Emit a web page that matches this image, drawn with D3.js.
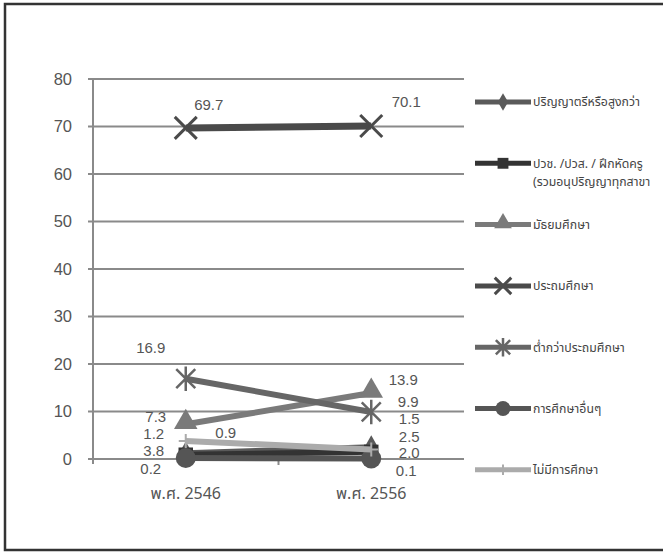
<!DOCTYPE html>
<html><head><meta charset="utf-8">
<script src="https://cdn.jsdelivr.net/npm/d3@7"></script>
<style>
html,body{margin:0;padding:0;background:#fff;}
svg{display:block;}
text{font-family:"Liberation Sans","DejaVu Sans",sans-serif;}
.thai{font-family:Tahoma,"Noto Sans Thai","Noto Sans","DejaVu Sans",sans-serif;}
</style>
</head><body>
<svg id="chart" width="663" height="558"></svg>
<script>
// ---- data ----
const categories = ["พ.ศ. 2546", "พ.ศ. 2556"];
const seriesNames = [
  "ปริญญาตรีหรือสูงกว่า",
  "ปวช. /ปวส. / ฝึกหัดครู (รวมอนุปริญญาทุกสาขา)",
  "มัธยมศึกษา",
  "ประถมศึกษา",
  "ต่ำกว่าประถมศึกษา",
  "การศึกษาอื่นๆ",
  "ไม่มีการศึกษา"
];
const bachelor   = [1.2, 2.5];
const vocational = [0.9, 1.5];
const secondary  = [7.3, 13.9];
const primary    = [69.7, 70.1];
const belowPrim  = [16.9, 9.9];
const otherEdu   = [0.2, 0.1];
const noEdu      = [3.8, 2.0];
const seriesValues = [bachelor, vocational, secondary, primary, belowPrim, otherEdu, noEdu];
const yTicks = [0, 10, 20, 30, 40, 50, 60, 70, 80];

// ---- style ----
const styles = [
  {color:"#5a5a5a", marker:"diamond"},
  {color:"#333333", marker:"square"},
  {color:"#7a7a7a", marker:"triangle"},
  {color:"#4a4a4a", marker:"x"},
  {color:"#666666", marker:"star"},
  {color:"#555555", marker:"circle"},
  {color:"#ababab", marker:"plus"}
];
// label offsets (dx, dy) from the point, per series, per category
const labelOffsets = [
  [[-32,-20],[38,-11]],
  [[40,-22],[38,-33]],
  [[-30,-8],[32,-13]],
  [[23,-23],[35,-24]],
  [[-35,-31],[37,-10]],
  [[-35,11],[35,12.5]],
  [[-32,10],[38,3.5]]
];

const svg = d3.select("#chart");
svg.append("rect").attr("x",5).attr("y",4).attr("width",700).attr("height",546)
  .attr("fill","#fff").attr("stroke","#333").attr("stroke-width",2.5);

const x = d3.scaleBand().domain(categories).range([93, 464]);
const y = d3.scaleLinear().domain([0, 80]).range([459, 79]);

// gridlines
svg.append("g").selectAll("line").data(yTicks).join("line")
  .attr("x1", 88).attr("x2", 464)
  .attr("y1", d => y(d)).attr("y2", d => y(d))
  .attr("stroke", "#8a8a8a").attr("stroke-width", 2);

// y axis line
svg.append("line").attr("x1",93).attr("x2",93).attr("y1",y(80)).attr("y2",y(0)+5)
  .attr("stroke","#8a8a8a").attr("stroke-width",2);
// x category ticks
const bounds = [x.range()[0] + x.bandwidth()];
svg.append("g").selectAll("line").data(bounds).join("line")
  .attr("x1", d=>d).attr("x2", d=>d).attr("y1", y(0)).attr("y2", y(0)+6)
  .attr("stroke","#8a8a8a").attr("stroke-width",2);

// y tick labels
svg.append("g").selectAll("text").data(yTicks).join("text")
  .attr("x", 72).attr("y", d => y(d)).attr("dy","0.36em")
  .attr("text-anchor","end").attr("font-size",16.5).attr("fill","#555")
  .text(d => d);

// x labels
svg.append("g").selectAll("text").data(categories).join("text")
  .attr("class","thai")
  .attr("x", d => x(d) + x.bandwidth()/2).attr("y", 493).attr("dy","0.36em")
  .attr("text-anchor","middle").attr("font-size",16).attr("fill","#555")
  .text(d => d);

function markerPath(type, s){
  const h = s/2;
  switch(type){
    case "x": return `M${-h},${-h}L${h},${h}M${-h},${h}L${h},${-h}`;
    case "star": return `M${-h},${-h}L${h},${h}M${-h},${h}L${h},${-h}M0,${-h*1.3}L0,${h*1.3}`;
    case "plus": return `M${-h},0L${h},0M0,${-h}L0,${h}`;
  }
}
function drawMarker(g, type, color, cx, cy, scale){
  const k = scale || 1;
  if (type === "diamond") {
    g.append("path").attr("d", d3.symbol(d3.symbolDiamond, 160*k*k)()).attr("transform",`translate(${cx},${cy})`).attr("fill",color);
  } else if (type === "square") {
    g.append("path").attr("d", d3.symbol(d3.symbolSquare, 210*k*k)()).attr("transform",`translate(${cx},${cy})`).attr("fill",color);
  } else if (type === "triangle") {
    g.append("path").attr("d", d3.symbol(d3.symbolTriangle, 240*k*k)()).attr("transform",`translate(${cx},${cy-2*k})`).attr("fill",color);
  } else if (type === "circle") {
    g.append("circle").attr("cx",cx).attr("cy",cy).attr("r",10*k).attr("fill",color);
  } else if (type === "x") {
    g.append("path").attr("d", markerPath("x", 22*k)).attr("transform",`translate(${cx},${cy})`).attr("stroke",color).attr("stroke-width",3).attr("fill","none");
  } else if (type === "star") {
    g.append("path").attr("d", markerPath("star", 19*k)).attr("transform",`translate(${cx},${cy})`).attr("stroke",color).attr("stroke-width",2.5).attr("fill","none");
  } else if (type === "plus") {
    g.append("path").attr("d", markerPath("plus", 14*k)).attr("transform",`translate(${cx},${cy})`).attr("stroke",color).attr("stroke-width",2).attr("fill","none");
  }
}

const line = d3.line().x((d,i) => x(categories[i]) + x.bandwidth()/2).y(d => y(d));
const plot = svg.append("g");
seriesValues.forEach((vals, si) => {
  const st = styles[si];
  const g = plot.append("g");
  g.append("path").datum(vals).attr("d", line).attr("fill","none")
    .attr("stroke", st.color).attr("stroke-width", si === 3 ? 7 : 6);
  vals.forEach((v, i) => {
    drawMarker(g, st.marker, st.color, x(categories[i]) + x.bandwidth()/2, y(v));
  });
});

// data labels
const labels = svg.append("g");
seriesValues.forEach((vals, si) => {
  vals.forEach((v, i) => {
    const off = labelOffsets[si][i];
    labels.append("text")
      .attr("x", x(categories[i]) + x.bandwidth()/2 + off[0])
      .attr("y", y(v) + off[1]).attr("dy","0.36em")
      .attr("text-anchor","middle").attr("font-size",15).attr("fill","#555")
      .text(v.toFixed(1));
  });
});

// legend
const legend = svg.append("g");
const legY = d3.range(seriesNames.length).map(i => 102 + i*61.3);
seriesNames.forEach((name, i) => {
  const st = styles[i];
  const gy = legY[i];
  legend.append("line").attr("x1",475).attr("x2",531).attr("y1",gy).attr("y2",gy)
    .attr("stroke", st.color).attr("stroke-width", 5);
  drawMarker(legend, st.marker, st.color, 503, gy, 0.75);
  const parts = i === 1 ? ["ปวช. /ปวส. / ฝึกหัดครู", "(รวมอนุปริญญาทุกสาขา"] : [name];
  const t = legend.append("text").attr("class","thai")
    .attr("x", 533).attr("y", gy)
    .attr("font-size", 12.3).attr("fill","#444");
  parts.forEach((p, j) => {
    t.append("tspan").attr("x", 533).attr("dy", j === 0 ? "0.36em" : "1.45em").text(p);
  });
});
</script>
</body></html>
